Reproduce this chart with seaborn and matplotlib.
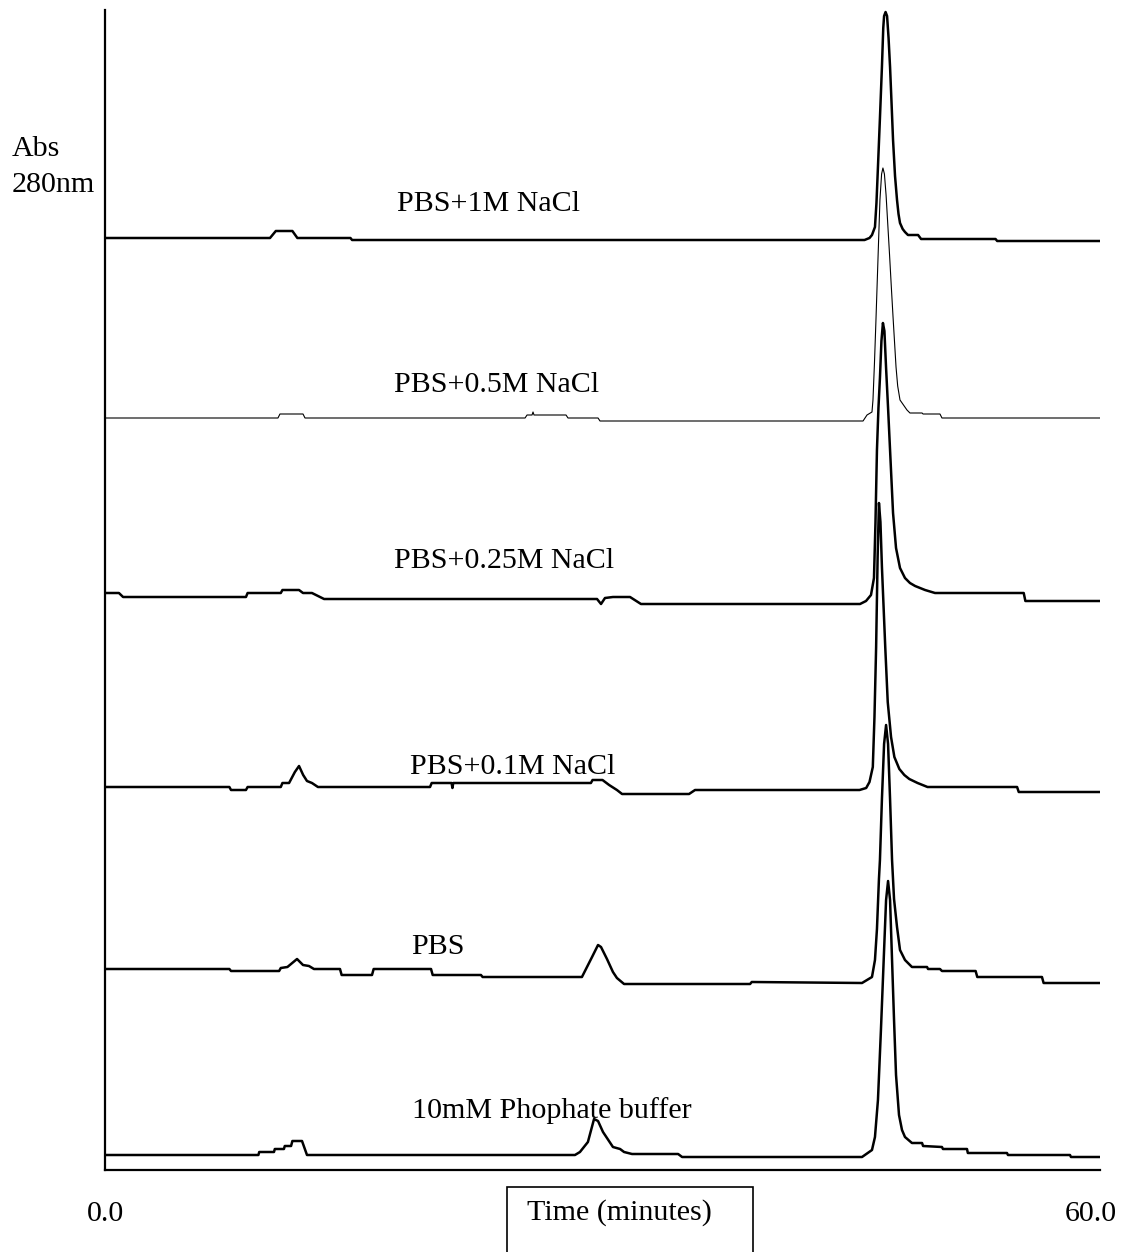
import matplotlib
matplotlib.use("Agg")
import matplotlib.pyplot as plt
import matplotlib.transforms as mtransforms
from matplotlib.patches import Rectangle
import pandas as pd
import seaborn as sns

# Elution profiles (time in minutes, absorbance in arbitrary units relative to each run's start)
T_1M = [0, 9.95, 10.1, 10.3, 11.3, 11.6, 14.8, 14.9, 45.8, 46.1, 46.25, 46.43, 46.52, 46.61, 46.73, 46.85,
        46.93, 46.98, 47.07, 47.16, 47.25, 47.34, 47.43, 47.52, 47.64, 47.76, 47.85, 47.94, 48.1, 48.24,
        48.42, 49.03, 49.21, 53.7, 53.8, 60]
A_1M = [0, 0, 3, 7, 7, 0, 0, -2, -2, 0, 3, 11, 35, 71, 120, 171,
        210, 222, 226, 222, 200, 171, 135, 98, 62, 38, 24, 15, 9, 6,
        3, 3, -1, -1, -3, -3]

T_05 = [0, 10.43, 10.55, 11.94, 12.06, 25.33, 25.45, 25.75, 25.81, 25.87, 27.80, 27.92, 29.73, 29.85,
        45.71, 45.95, 46.25, 46.31, 46.40, 46.49, 46.61, 46.73, 46.83, 46.91, 47.00, 47.10, 47.31, 47.42,
        47.52, 47.70, 47.80, 47.94, 48.36, 48.54, 49.27, 49.33, 50.35, 50.47, 60]
A_05 = [0, 0, 4, 4, 0, 0, 3, 3, 6, 3, 3, 0, 0, -3,
        -3, 3, 6, 18, 55, 98, 158, 218, 244, 250, 244, 223, 163, 130,
        101, 51, 32, 18, 8, 5, 5, 4, 4, 0, 0]

T_025 = [0, 0.84, 1.09, 8.50, 8.60, 10.60, 10.70, 11.70, 11.94, 12.48, 13.21, 29.67, 29.91, 30.15, 30.63,
         31.66, 32.32, 45.53, 45.89, 46.19, 46.37, 46.46, 46.55, 46.64, 46.73, 46.82, 46.91, 47.00, 47.10,
         47.22, 47.34, 47.52, 47.70, 47.94, 48.24, 48.54, 48.85, 49.45, 50.05, 55.40, 55.50, 60]
A_025 = [0, 0, -4, -4, 0, 0, 3, 3, 0, 0, -6, -6, -11, -5, -4,
         -4, -11, -11, -8, -2, 15, 70, 143, 185, 215, 252, 270, 262, 225,
         185, 143, 80, 45, 25, 15, 10, 7, 3, 0, 0, -8, -8]

T_01 = [0, 7.50, 7.60, 8.50, 8.60, 10.60, 10.70, 11.10, 11.45, 11.70, 11.95, 12.18, 12.48, 12.84, 19.60,
        19.70, 20.90, 20.95, 21.00, 29.30, 29.40, 30.00, 30.40, 30.87, 31.18, 35.22, 35.58, 45.50, 45.90,
        46.10, 46.30, 46.40, 46.50, 46.59, 46.67, 46.76, 46.85, 47.05, 47.20, 47.40, 47.60, 47.90, 48.20,
        48.50, 49.00, 49.60, 55.00, 55.10, 60]
A_01 = [0, 0, -3, -3, 0, 0, 4, 4, 15, 21, 12, 6, 4, 0, 0,
        4, 4, -1, 4, 4, 7, 7, 2, -3, -7, -7, -3, -3, -1,
        5, 20, 70, 140, 230, 284, 265, 220, 140, 85, 50, 30, 18, 12,
        8, 4, 0, 0, -5, -5]

T_PBS = [0, 7.50, 7.60, 10.50, 10.60, 11.00, 11.58, 11.94, 12.30, 12.60, 14.17, 14.27, 16.10, 16.20, 19.66,
         19.76, 22.67, 22.77, 28.76, 29.37, 29.73, 29.91, 30.27, 30.63, 30.87, 31.30, 38.90, 39.00, 45.65,
         46.25, 46.43, 46.55, 46.67, 46.73, 46.85, 46.98, 47.10, 47.22, 47.34, 47.46, 47.58, 47.76, 47.94,
         48.24, 48.66, 49.57, 49.63, 50.35, 50.47, 52.50, 52.60, 56.50, 56.60, 60]
A_PBS = [0, 0, -2, -2, 1, 2, 10, 4, 3, 0, 0, -6, -6, 0, 0,
         -6, -6, -8, -8, 12, 24, 22, 10, -3, -9, -15, -15, -13, -14,
         -8, 9, 40, 90, 109, 170, 225, 244, 225, 170, 109, 70, 42, 19,
         9, 2, 2, 0, 0, -2, -2, -8, -8, -14, -14]

T_10 = [0, 9.25, 9.30, 10.19, 10.24, 10.79, 10.84, 11.22, 11.30, 11.88, 12.18, 28.34, 28.64, 29.12, 29.49,
        29.73, 30.03, 30.63, 31.06, 31.30, 31.78, 34.56, 34.80, 45.65, 46.25, 46.43, 46.61, 46.79, 46.98,
        47.10, 47.22, 47.34, 47.46, 47.58, 47.70, 47.88, 48.06, 48.24, 48.66, 49.27, 49.33, 50.47, 50.53,
        51.98, 52.03, 54.39, 54.45, 58.19, 58.25, 60]
A_10 = [0, 0, 3, 3, 6, 6, 9, 9, 14, 14, 0, 0, 3, 13, 36,
        34, 23, 8, 6, 3, 1, 1, -2, -2, 5, 18, 55, 125, 205,
        255, 274, 255, 195, 135, 80, 40, 25, 18, 12, 12, 9, 8, 6,
        6, 2, 2, 0, 0, -2, -2]

RUN_LABELS = ["PBS+1M NaCl", "PBS+0.5M NaCl", "PBS+0.25M NaCl", "PBS+0.1M NaCl", "PBS",
              "10mM Phophate buffer"]
RUN_TIMES = [T_1M, T_05, T_025, T_01, T_PBS, T_10]
RUN_ABS = [A_1M, A_05, A_025, A_01, A_PBS, A_10]

# vertical stacking of the runs and where each run's name sits
OFFSETS = [932, 752, 577, 383, 201, 15]
LINE_WIDTHS = [1.8, 0.8, 1.8, 1.8, 1.8, 1.8]
LABEL_XY = [(17.6, 959), (17.4, 778), (17.4, 602), (18.4, 396), (18.45, 216), (18.5, 52)]

sns.set_theme(style="white")
plt.rcParams["font.family"] = ["Liberation Serif", "DejaVu Serif"]
plt.rcParams["text.color"] = "black"
plt.rcParams["xtick.color"] = "black"

W, H = 1122, 1252
fig = plt.figure(figsize=(W / 100, H / 100), dpi=100)
ax = fig.add_axes([105 / W, (H - 1170) / H, 995 / W, 1160 / H])

for name, t, a, off, lw in zip(RUN_LABELS, RUN_TIMES, RUN_ABS, OFFSETS, LINE_WIDTHS):
    df = pd.DataFrame({"time": t, "absorbance": [v + off for v in a]})
    sns.lineplot(data=df, x="time", y="absorbance", ax=ax, color="black", linewidth=lw,
                 estimator=None, sort=False)

for name, (lx, ly) in zip(RUN_LABELS, LABEL_XY):
    ax.text(lx, ly, name, fontsize=21.6, ha="left", va="baseline", color="black")

ax.set_xlim(0, 60)
ax.set_ylim(0, 1160)
ax.set_xlabel("")
ax.set_ylabel("")
ax.set_yticks([])
ax.set_xticks([0, 60], labels=["0.0", "60.0"])
ax.tick_params(axis="x", length=0, pad=22, labelsize=21.6, labelcolor="black")
# keep the right-hand tick label inside the canvas
end_label = ax.get_xticklabels()[-1]
end_label.set_transform(end_label.get_transform() +
                        mtransforms.ScaledTranslation(-9 / 100, 0, fig.dpi_scale_trans))
for side in ["top", "right"]:
    ax.spines[side].set_visible(False)
for side in ["left", "bottom"]:
    ax.spines[side].set_color("black")
    ax.spines[side].set_linewidth(1.6)

fig.text(12 / W, 1 - 156 / H, "Abs", fontsize=21.6, ha="left", va="baseline")
fig.text(12 / W, 1 - 192 / H, "280nm", fontsize=21.6, ha="left", va="baseline")

# boxed axis caption below the time axis
fig.patches.append(Rectangle((507 / W, -0.05), 246 / W, (H - 1187) / H + 0.05,
                             transform=fig.transFigure, fill=False, edgecolor="black",
                             linewidth=1.2))
fig.text(527 / W, 1 - 1220 / H, "Time (minutes)", fontsize=21.6, ha="left", va="baseline")

fig.savefig("out.png", dpi=100)
